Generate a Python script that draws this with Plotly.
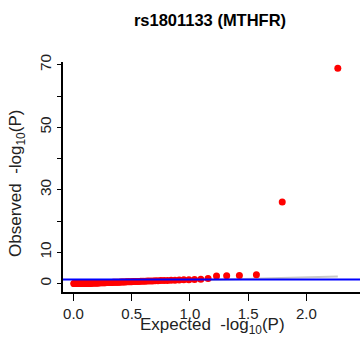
import numpy as np
import plotly.graph_objects as go

# Observed -log10(P), sorted descending
observed = [
    68.9, 26.1, 2.85, 2.55, 2.50, 2.45, 1.60, 1.38, 1.30, 1.25,
    1.20, 1.15, 1.10, 1.06, 1.02, 0.98, 0.95, 0.92, 0.89, 0.86,
    0.83, 0.80, 0.77, 0.74, 0.71, 0.69, 0.67, 0.65, 0.63, 0.61,
    0.59, 0.57, 0.55, 0.53, 0.51, 0.50, 0.48, 0.46, 0.45, 0.43,
    0.42, 0.40, 0.39, 0.37, 0.36, 0.35, 0.33, 0.32, 0.31, 0.30,
    0.28, 0.27, 0.26, 0.25, 0.24, 0.23, 0.22, 0.21, 0.20, 0.19,
    0.18, 0.17, 0.16, 0.15, 0.145, 0.14, 0.13, 0.12, 0.115, 0.11,
    0.10, 0.095, 0.09, 0.08, 0.075, 0.07, 0.065, 0.06, 0.055, 0.05,
    0.045, 0.04, 0.036, 0.032, 0.028, 0.024, 0.02, 0.016, 0.012, 0.009,
    0.006, 0.004, 0.002,
]
threshold = 1.30103  # -log10(0.05)
x_ticks = [0.0, 0.5, 1.0, 1.5, 2.0]
x_ticktext = ["0.0", "0.5", "1.0", "1.5", "2.0"]
y_ticks = [0, 10, 20, 30, 40, 50, 60, 70]
y_ticktext = ["0", "10", "", "30", "", "50", "", "70"]
title = "rs1801133 (MTHFR)"
x_title = "Expected  -log<sub>10</sub>(P)"
y_title = "Observed  -log<sub>10</sub>(P)"

# Theoretical quantiles (ppoints) for the QQ plot
n = len(observed)
ranks = np.arange(1, n + 1)
expected = -np.log10((ranks - 0.5) / n)
emax = float(expected.max())

FONT = "Liberation Sans, Arial, Helvetica, sans-serif"
TXT = "#222222"

fig = go.Figure()
fig.add_trace(go.Scatter(x=[0, emax], y=[0, emax], mode="lines",
                         line=dict(color="#c8c8c8", width=2), hoverinfo="skip"))
fig.add_trace(go.Scatter(x=expected, y=observed, mode="markers",
                         marker=dict(color="#ff0000", size=7, line=dict(width=0))))
fig.add_trace(go.Scatter(x=[-1, 3], y=[threshold, threshold], mode="lines",
                         line=dict(color="#0000ff", width=1.8), hoverinfo="skip"))

fig.update_layout(
    width=360, height=350,
    margin=dict(l=63, r=0, t=62, b=58),
    paper_bgcolor="white", plot_bgcolor="white",
    showlegend=False,
    font=dict(family=FONT, color="black"),
    title=dict(text="<b>" + title + "</b>", x=210 / 360, xanchor="center",
               y=1 - 20 / 350, yanchor="middle",
               font=dict(size=16.5, family=FONT, color="black")),
    annotations=[
        dict(text=x_title, xref="paper", yref="paper",
             x=(212 - 63) / 297, y=(292 - 326) / 230,
             xanchor="center", yanchor="middle", showarrow=False,
             font=dict(size=17, family=FONT, color=TXT)),
        dict(text=y_title, xref="paper", yref="paper",
             x=(17 - 63) / 297, y=(292 - 184) / 230, textangle=-90,
             xanchor="center", yanchor="middle", showarrow=False,
             font=dict(size=17, family=FONT, color=TXT)),
    ],
)
fig.update_xaxes(
    range=[-0.09, 2.46], showgrid=False, zeroline=False,
    showline=True, linecolor="black", linewidth=1.5,
    ticks="outside", ticklen=7, tickwidth=1.2, tickcolor="black",
    tickvals=x_ticks, ticktext=x_ticktext,
    tickfont=dict(size=15, family=FONT, color=TXT),
)
fig.update_yaxes(
    range=[-2.7, 70.9], showgrid=False, zeroline=False,
    showline=True, linecolor="black", linewidth=1.5,
    ticks="outside", ticklen=4, tickwidth=1.2, tickcolor="black",
    tickvals=y_ticks, ticktext=y_ticktext, tickangle=-90,
    tickfont=dict(size=15.5, family=FONT, color=TXT),
)

fig.write_html("out.html")
